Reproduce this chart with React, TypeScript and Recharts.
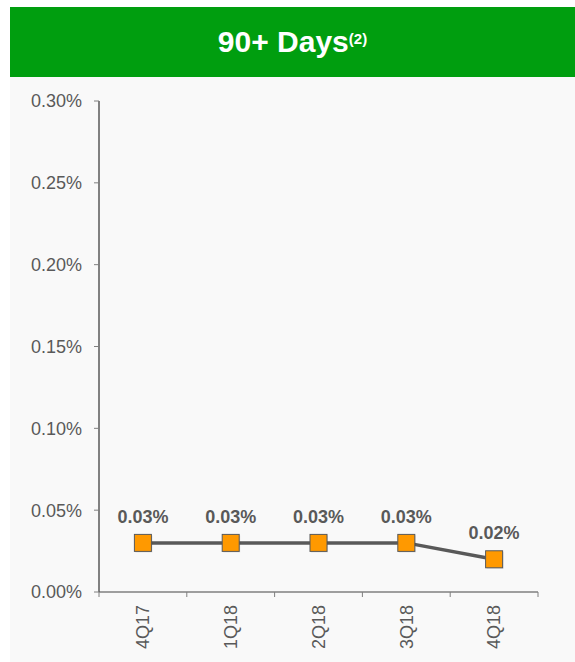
import React from 'react';
import { LineChart, Line, XAxis, YAxis } from 'recharts';

// quarter labels and 90+ day delinquency rates (%)
const quarters = ['4Q17', '1Q18', '2Q18', '3Q18', '4Q18'];
const rates = [0.03, 0.03, 0.03, 0.03, 0.02];
const yTicks = [0, 0.05, 0.1, 0.15, 0.2, 0.25, 0.3];
const edgeTicks = [0, 1, 2, 3, 4, 5];

// each quarter sits in the middle of its slot on a 0..5 axis
const chartData = quarters.map((q, i) => ({ q, pos: i + 0.5, rate: rates[i] }));

const GREY = '#595959';
const FONT = 'Arial, "Liberation Sans", Helvetica, sans-serif';

const W = 565;
const H = 585;
const MARGIN = { top: 24, right: 37, left: 0, bottom: 0 };
const Y_W = 89;
const HALF_SLOT = (W - Y_W - MARGIN.right) / quarters.length / 2;

const SquareDot = (props: any) => {
  const { cx, cy } = props;
  if (cx == null || cy == null) return null;
  const s = 17;
  return (
    <g>
      <rect x={cx - s / 2 + 1} y={cy - s / 2 + 1} width={s} height={s} fill="rgba(0,0,0,0.12)" />
      <rect x={cx - s / 2} y={cy - s / 2} width={s} height={s} fill="#ff9900" stroke={GREY} strokeWidth={1} />
    </g>
  );
};

const ValueLabel = (props: any) => {
  const { x, y, value } = props;
  return (
    <text x={x} y={y - 20} textAnchor="middle" fill={GREY} fontSize={18} fontWeight="bold" fontFamily={FONT}>
      {`${Number(value).toFixed(2)}%`}
    </text>
  );
};

// ticks sit on slot edges; the quarter name goes in the middle of the slot
const QuarterTick = (props: any) => {
  const { x, y, payload } = props;
  const label = quarters[payload.value];
  if (!label) return null;
  const cx = x + HALF_SLOT;
  return (
    <text
      transform={`translate(${cx},${y}) rotate(-90)`}
      textAnchor="end"
      dy="0.35em"
      fill={GREY}
      fontSize={18}
      fontFamily={FONT}
    >
      {label}
    </text>
  );
};

export default function App() {
  return (
    <div style={{ position: 'absolute', left: 0, top: 0, width: 575, height: 662, background: '#fff', fontFamily: FONT }}>
      <div
        style={{
          position: 'absolute',
          left: 10,
          top: 7,
          width: 565,
          height: 70,
          background: '#009e0f',
          color: '#fff',
          display: 'flex',
          alignItems: 'center',
          justifyContent: 'center',
          fontWeight: 'bold',
          fontSize: 30,
        }}
      >
        <span>
          90+ Days<span style={{ fontSize: 15, verticalAlign: 8 }}>(2)</span>
        </span>
      </div>
      <div style={{ position: 'absolute', left: 10, top: 77, width: W, height: H, background: '#f9f9f9' }}>
        <LineChart width={W} height={H} data={chartData} margin={MARGIN}>
          <XAxis
            dataKey="pos"
            type="number"
            domain={[0, 5]}
            ticks={edgeTicks}
            interval={0}
            height={70}
            tickSize={5}
            tickMargin={8}
            stroke="#7f7f7f"
            axisLine={{ stroke: '#7f7f7f', strokeWidth: 1.5 }}
            tick={<QuarterTick />}
          />
          <YAxis
            width={Y_W}
            domain={[0, 0.3]}
            ticks={yTicks}
            tickFormatter={(v) => `${v.toFixed(2)}%`}
            tick={{ fontSize: 18, fill: GREY, fontFamily: FONT }}
            tickSize={5}
            tickMargin={12}
            stroke="#7f7f7f"
            axisLine={{ stroke: '#595959', strokeWidth: 1.5 }}
          />
          <Line
            dataKey="rate"
            stroke={GREY}
            strokeWidth={3.5}
            dot={<SquareDot />}
            activeDot={false}
            label={<ValueLabel />}
            isAnimationActive={false}
          />
        </LineChart>
      </div>
    </div>
  );
}
